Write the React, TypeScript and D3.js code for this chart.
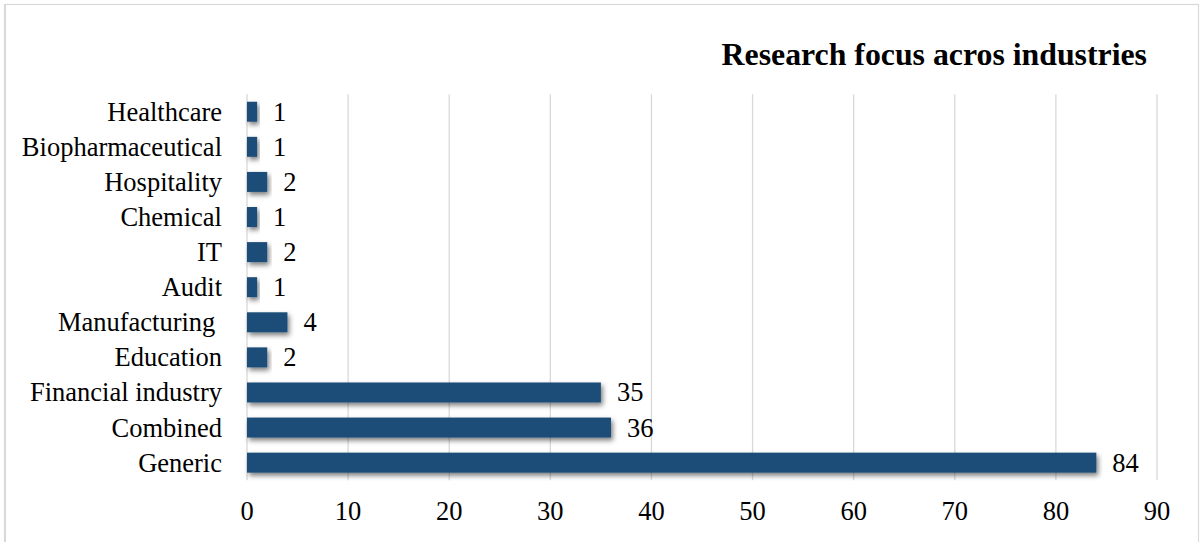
import React from "react";
import * as d3 from "d3";

// Industries, listed top to bottom as drawn
const industries = [
  "Healthcare",
  "Biopharmaceutical",
  "Hospitality",
  "Chemical",
  "IT",
  "Audit",
  "Manufacturing ",
  "Education",
  "Financial industry",
  "Combined",
  "Generic",
];
const studyCounts = [1, 1, 2, 1, 2, 1, 4, 2, 35, 36, 84];
const xTicks = [0, 10, 20, 30, 40, 50, 60, 70, 80, 90];
const chartTitle = "Research focus acros industries";

const W = 1201;
const H = 542;
const FONT = "'Liberation Serif', 'Times New Roman', serif";
const BAR = "#1f4e79";
const GRID = "#d9d9d9";

export default function App() {
  const x = d3.scaleLinear().domain([0, 90]).range([247, 1157]);
  const y = d3
    .scaleBand<string>()
    .domain(industries)
    .range([94.2, 480.2])
    .paddingInner(0.43)
    .paddingOuter(0.215);

  const [gTop, gBottom] = y.range();

  return (
    <div style={{ position: "absolute", left: 0, top: 0 }}>
      <svg width={W} height={H} style={{ display: "block", background: "#fff" }}>
        <defs>
          <filter id="barShadow" x="-10%" y="-40%" width="130%" height="200%">
            <feDropShadow dx="2" dy="3" stdDeviation="2.4" floodColor="#000" floodOpacity="0.5" />
          </filter>
        </defs>

        {/* chart frame */}
        <rect x={4.5} y={4.5} width={1194} height={600} fill="none" stroke={GRID} strokeWidth={1.2} />
        <line x1={5} x2={5} y1={4} y2={H} stroke={GRID} strokeWidth={2} />

        {/* title */}
        <text
          x={1147}
          y={65}
          textAnchor="end"
          fontFamily={FONT}
          fontWeight="bold"
          fontSize={31.8}
          fill="#000"
        >
          {chartTitle}
        </text>

        {/* vertical gridlines */}
        {xTicks.map((t) => (
          <line
            key={`g${t}`}
            x1={x(t)}
            x2={x(t)}
            y1={gTop}
            y2={gBottom}
            stroke={GRID}
            strokeWidth={1.3}
          />
        ))}

        {/* bars */}
        {industries.map((name, i) => (
          <rect
            key={name}
            x={x(0)}
            y={y(name)}
            width={x(studyCounts[i]) - x(0)}
            height={y.bandwidth()}
            fill={BAR}
            filter="url(#barShadow)"
          />
        ))}

        {/* value labels */}
        {industries.map((name, i) => (
          <text
            key={`v${name}`}
            x={x(studyCounts[i]) + 16}
            y={(y(name) as number) + y.bandwidth() / 2 + 9}
            fontFamily={FONT}
            fontSize={26.5}
            fill="#000"
          >
            {studyCounts[i]}
          </text>
        ))}

        {/* category labels */}
        {industries.map((name) => (
          <text
            key={`c${name}`}
            x={222}
            y={(y(name) as number) + y.bandwidth() / 2 + 9}
            textAnchor="end"
            fontFamily={FONT}
            fontSize={26.5}
            fill="#000"
            style={{ whiteSpace: "pre" }}
          >
            {name}
          </text>
        ))}

        {/* x tick labels */}
        {xTicks.map((t) => (
          <text
            key={`t${t}`}
            x={x(t)}
            y={520}
            textAnchor="middle"
            fontFamily={FONT}
            fontSize={26.5}
            fill="#000"
          >
            {t}
          </text>
        ))}
      </svg>
    </div>
  );
}
